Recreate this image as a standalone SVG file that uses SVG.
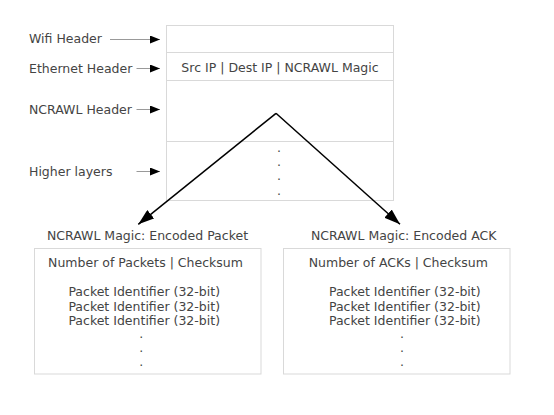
<svg xmlns="http://www.w3.org/2000/svg" width="554" height="415" viewBox="0 0 554 415">
<style>
text{font-family:"DejaVu Sans",sans-serif;font-size:12.5px;fill:#444}
.c{text-anchor:middle}
.box{fill:#fff;stroke:#d9d9d9;stroke-width:1}
.sm{stroke:#999;stroke-width:1;fill:none}
.big{stroke:#000;stroke-width:1.5;fill:none}
</style>
<defs>
<marker id="ah" viewBox="0 0 10 8" refX="10" refY="4" markerWidth="10" markerHeight="8" markerUnits="userSpaceOnUse" orient="auto"><path d="M0,0 L10,4 L0,8 z" fill="#000"/></marker>
<marker id="bh" viewBox="0 0 16 11" refX="16" refY="5.5" markerWidth="16" markerHeight="11" markerUnits="userSpaceOnUse" orient="auto"><path d="M0,0 L16,5.5 L0,11 z" fill="#000"/></marker>
</defs>
<g id="packet">
<rect class="box" x="166.5" y="25.5" width="227" height="175"/>
<line class="box" x1="166.5" y1="52.5" x2="393.5" y2="52.5"/>
<line class="box" x1="166.5" y1="80.5" x2="393.5" y2="80.5"/>
<line class="box" x1="166.5" y1="141.5" x2="393.5" y2="141.5"/>
<text class="c" x="280" y="72">Src IP | Dest IP | NCRAWL Magic</text>
<text class="c" x="279" y="151.5">.</text>
<text class="c" x="279" y="165.5">.</text>
<text class="c" x="279" y="180">.</text>
<text class="c" x="279" y="194.5">.</text>
</g>
<g id="labels">
<text x="29" y="43.3">Wifi Header</text>
<text x="29" y="73">Ethernet Header</text>
<text x="29" y="114">NCRAWL Header</text>
<text x="29" y="176">Higher layers</text>
</g>
<g id="encoded-packet">
<text class="c" x="147.5" y="240">NCRAWL Magic: Encoded Packet</text>
<rect class="box" x="34.5" y="248.5" width="226.5" height="125.5"/>
<text class="c" x="145.5" y="266.7">Number of Packets | Checksum</text>
<text class="c" x="144.2" y="296">Packet Identifier (32-bit)</text>
<text class="c" x="144.2" y="310.5">Packet Identifier (32-bit)</text>
<text class="c" x="144.2" y="325">Packet Identifier (32-bit)</text>
<text class="c" x="141.3" y="338.2">.</text>
<text class="c" x="141.3" y="352.2">.</text>
<text class="c" x="141.3" y="366">.</text>
</g>
<g id="encoded-ack">
<text class="c" x="403.7" y="240">NCRAWL Magic: Encoded ACK</text>
<rect class="box" x="283.5" y="248.5" width="226.5" height="125.5"/>
<text class="c" x="398.3" y="266.7">Number of ACKs | Checksum</text>
<text class="c" x="404.8" y="296">Packet Identifier (32-bit)</text>
<text class="c" x="404.8" y="310.5">Packet Identifier (32-bit)</text>
<text class="c" x="404.8" y="325">Packet Identifier (32-bit)</text>
<text class="c" x="402" y="338.2">.</text>
<text class="c" x="402" y="352.2">.</text>
<text class="c" x="402" y="366">.</text>
</g>
<g id="connectors">
<line class="sm" x1="110" y1="39.5" x2="160" y2="39.5" marker-end="url(#ah)"/>
<line class="sm" x1="136.5" y1="68.5" x2="160" y2="68.5" marker-end="url(#ah)"/>
<line class="sm" x1="136.5" y1="109.5" x2="160" y2="109.5" marker-end="url(#ah)"/>
<line class="sm" x1="136.5" y1="171.5" x2="160" y2="171.5" marker-end="url(#ah)"/>
<path class="big" d="M276,113.3 L138.3,224.3" marker-end="url(#bh)"/>
<path class="big" d="M276,113.3 L400,224.3" marker-end="url(#bh)"/>
</g>
</svg>
